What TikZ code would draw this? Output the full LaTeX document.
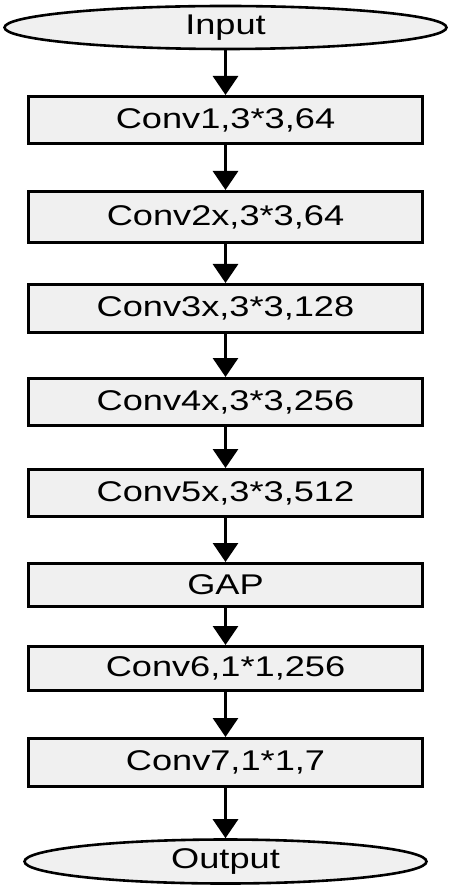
\documentclass[tikz,border=0pt]{standalone}
\usepackage{fontspec}
\setmainfont{Liberation Sans}[FakeStretch=1.27]
\usetikzlibrary{arrows.meta,shapes.geometric}
\definecolor{boxgray}{HTML}{F0F0F0}
\begin{document}
\begin{tikzpicture}[x=1pt,y=-1pt,
  lbl/.style={font=\fontsize{28.5}{32}\selectfont, text=black},
  stage/.style={lbl, draw=black, line width=3pt, fill=boxgray, rectangle, inner sep=0pt, minimum width=394pt},
  oval/.style={lbl, draw=black, line width=2.6pt, fill=boxgray, ellipse, inner sep=0pt},
  arr/.style={line width=3pt, -{Triangle[width=25pt,length=19pt]}}]
\useasboundingbox (0,0) rectangle (453,890);
\node[oval, minimum width=442pt, minimum height=43pt] (in) at (225.5,27.5) {Input};
\node[stage, minimum height=47pt] (c1) at (225.5,120) {Conv1,3*3,64};
\node[stage, minimum height=51pt] (c2) at (225.5,217) {Conv2x,3*3,64};
\node[stage, minimum height=48pt] (c3) at (225.5,308.5) {Conv3x,3*3,128};
\node[stage, minimum height=47pt] (c4) at (225.5,402) {Conv4x,3*3,256};
\node[stage, minimum height=47pt] (c5) at (225.5,493) {Conv5x,3*3,512};
\node[stage, minimum height=43pt] (gap) at (225.5,585) {GAP};
\node[stage, minimum height=44pt] (c6) at (225.5,668.5) {Conv6,1*1,256};
\node[stage, minimum height=48pt] (c7) at (225.5,762.5) {Conv7,1*1,7};
\node[oval, minimum width=402pt, minimum height=44pt] (out) at (225.5,861.5) {Output};
\draw[arr] (in) -- (c1);
\draw[arr] (c1) -- (c2);
\draw[arr] (c2) -- (c3);
\draw[arr] (c3) -- (c4);
\draw[arr] (c4) -- (c5);
\draw[arr] (c5) -- (gap);
\draw[arr] (gap) -- (c6);
\draw[arr] (c6) -- (c7);
\draw[arr] (c7) -- (out);
\end{tikzpicture}
\end{document}
